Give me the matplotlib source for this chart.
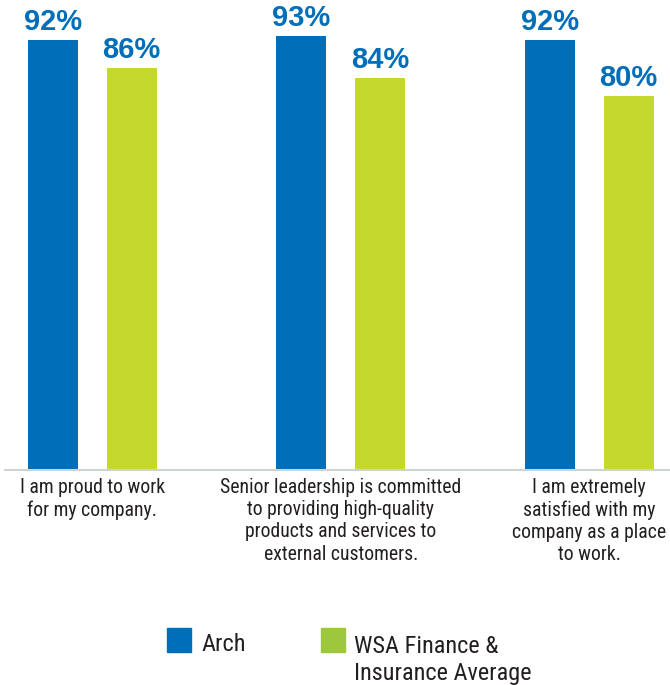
import numpy as np
import matplotlib
matplotlib.use("Agg")
import matplotlib.pyplot as plt
from matplotlib.patches import Rectangle

# Data
categories = [
    "I am proud to work\nfor my company.",
    "Senior leadership is committed\nto providing high-quality\nproducts and services to\nexternal customers.",
    "I am extremely\nsatisfied with my\ncompany as a place\nto work.",
]
arch = [92, 93, 92]
wsa = [86, 84, 80]
series_names = ["Arch", "WSA Finance &\nInsurance Average"]

blue = "#006EB8"
green = "#C5D92D"
legend_green = "#9DC83C"
text_color = "#231F20"
cond = "Roboto Condensed"

W, H = 670, 685
fig = plt.figure(figsize=(W / 100, H / 100), dpi=100)
ax = fig.add_axes([5 / W, (H - 470) / H, 665 / W, 470 / H])

x = np.arange(len(categories))
width = 0.2
off = 0.159

b1 = ax.bar(x - off, arch, width, color=blue)
b2 = ax.bar(x + off, wsa, width, color=green)

for bars in (b1, b2):
    ax.bar_label(bars, labels=[f"{v}%" for v in bars.datavalues], padding=3,
                 color=blue, fontsize=21, fontweight="bold", family="Liberation Sans")

ax.set_xlim(-0.351, len(categories) - 1 + 0.325)
ax.set_ylim(0, 470 / 4.67)
ax.set_yticks([])
ax.set_xticks(x)
ax.set_xticklabels(categories, family=cond, fontsize=14.2,
                   color=text_color, linespacing=1.22)
ax.tick_params(axis="x", length=0, pad=5.5)

for s in ["top", "left", "right"]:
    ax.spines[s].set_visible(False)
ax.spines["bottom"].set_color("#D0D3D4")
ax.spines["bottom"].set_linewidth(1.5)

# legend
fig.add_artist(Rectangle((167 / W, (H - 652) / H), 24 / W, 24 / H,
                         transform=fig.transFigure, color=blue))
fig.text(201 / W, (H - 651) / H, series_names[0], family=cond,
         fontsize=17.5, color=text_color, va="baseline")
fig.add_artist(Rectangle((321 / W, (H - 652) / H), 24 / W, 24 / H,
                         transform=fig.transFigure, color=legend_green))
fig.text(354 / W, (H - 680) / H, series_names[1], family=cond,
         fontsize=17.5, color=text_color, va="baseline", linespacing=1.2)

fig.savefig("out.png", dpi=100)
